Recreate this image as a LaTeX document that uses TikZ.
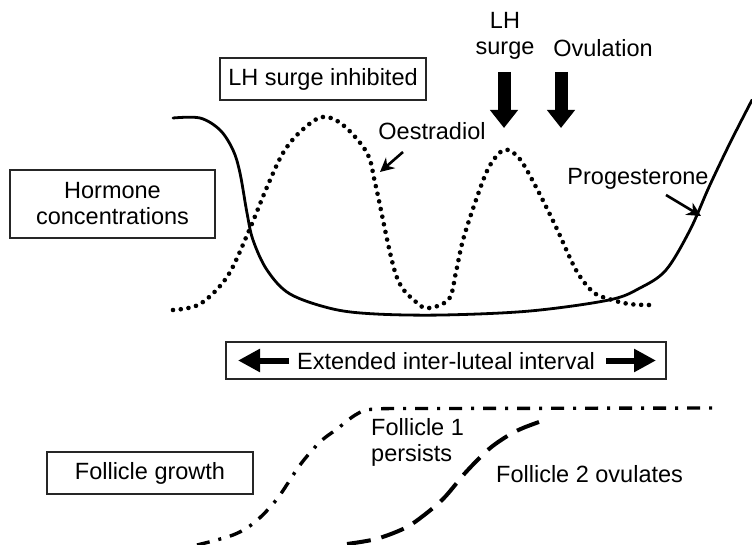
\documentclass[tikz,border=0pt]{standalone}
\usepackage{fontspec}
\setmainfont{Liberation Sans}
\usetikzlibrary{arrows.meta}
\begin{document}
\begin{tikzpicture}[x=1pt,y=-1pt,
  lbl/.style={font=\fontsize{23.5}{26}\selectfont, inner sep=0pt},
  frame/.style={draw=black!85, line width=1.2pt, inner sep=0pt, font=\fontsize{23.5}{26}\selectfont, align=center},
  solidc/.style={line width=2.8pt, line cap=round, line join=round},
  dotc/.style={line width=4.6pt, line cap=round, dash pattern=on 0pt off 7.8pt},
  dashdotc/.style={line width=3.4pt, dash pattern=on 13pt off 9pt on 3pt off 9pt},
  dashc/.style={line width=4pt, dash pattern=on 24pt off 11pt},
  pointer/.style={line width=2.6pt, -{Stealth[length=14pt,width=14pt]}},
  fatdown/.style={line width=13pt, -{Triangle[length=18pt,width=27pt]}},
  fatside/.style={line width=6pt, -{Triangle[length=22pt,width=22pt]}}
]
\useasboundingbox (0,0) rectangle (752,545);

% boxes
\node[frame, minimum width=206pt, minimum height=42pt] (inhib) at (323,79) {LH surge inhibited};
\node[frame, minimum width=205pt, minimum height=68pt] (horm) at (112.5,204) {Hormone\\concentrations};
\node[frame, minimum width=440pt, minimum height=37pt] (ext) at (446,360.5) {};
\node[lbl] (extlbl) at (446,361) {Extended inter-luteal interval};
\node[frame, minimum width=206pt, minimum height=42pt] (fg) at (150,473) {Follicle growth};

% interval arrows
\coordinate (la0) at (289,360.5);
\coordinate (la1) at (238,360.5);
\coordinate (ra0) at (606,360.5);
\coordinate (ra1) at (656,360.5);
\draw[fatside] (la0) -- (la1);
\draw[fatside] (ra0) -- (ra1);

% top labels and fat arrows
\node[lbl, align=center] (lh) at (505,36) {LH\\surge};
\node[lbl] (ovu) at (603,48) {Ovulation};
\coordinate (lh0) at (504,72);
\coordinate (lh1) at (504,128);
\coordinate (ov0) at (561,72);
\coordinate (ov1) at (561,128);
\draw[fatdown] (lh0) -- (lh1);
\draw[fatdown] (ov0) -- (ov1);

% curve labels
\node[lbl] (oes) at (432,131) {Oestradiol};
\node[lbl] (prog) at (638,179) {Progesterone};
\coordinate (oe0) at (403,152);
\coordinate (oe1) at (380,172);
\coordinate (pr0) at (666,195);
\coordinate (pr1) at (701,216);
\draw[pointer] (oe0) -- (oe1);
\draw[pointer] (pr0) -- (pr1);

% progesterone (solid)
\draw[solidc] plot[smooth, tension=0.55] coordinates {
 (173,118) (200,118) (220,130) (233,150) (240,173) (247,213) (253,240) (267,270)
 (290,294) (333,309) (376,314) (443,315) (530,311) (609,300) (640,288) (666,270)
 (690,230) (709,187) (730,143) (752,100)};

% oestradiol (dotted)
\draw[dotc] plot[smooth, tension=0.55] coordinates {
 (173,310) (200,304) (227,277) (248,233) (267,187) (283,153) (300,132) (322,117)
 (343,125) (367,153) (376,187) (396,275) (416,302) (429,308) (449,299) (456,272)
 (463,240) (476,200) (489,167) (504,150) (519,158) (536,187) (556,227) (576,270)
 (593,292) (609,299) (629,304) (649,305)};

% follicle 1 (dash-dot)
\draw[dashdotc] plot[smooth, tension=0.55] coordinates {
 (197,545) (233,535) (255,522) (277,499) (300,465) (320,442) (337,429) (357,414)
 (376,409) (450,408.5) (713,408)};

% follicle 2 (dashed)
\draw[dashc] plot[smooth, tension=0.55] coordinates {
 (347,544) (376,539) (403,529) (419,519) (443,499) (466,472) (489,449) (509,435)
 (523,428) (539,422)};

% follicle labels
\node[lbl, align=left, anchor=west] (f1) at (371,442) {Follicle 1\\persists};
\node[lbl, anchor=west] (f2) at (496,474) {Follicle 2 ovulates};
\end{tikzpicture}
\end{document}
